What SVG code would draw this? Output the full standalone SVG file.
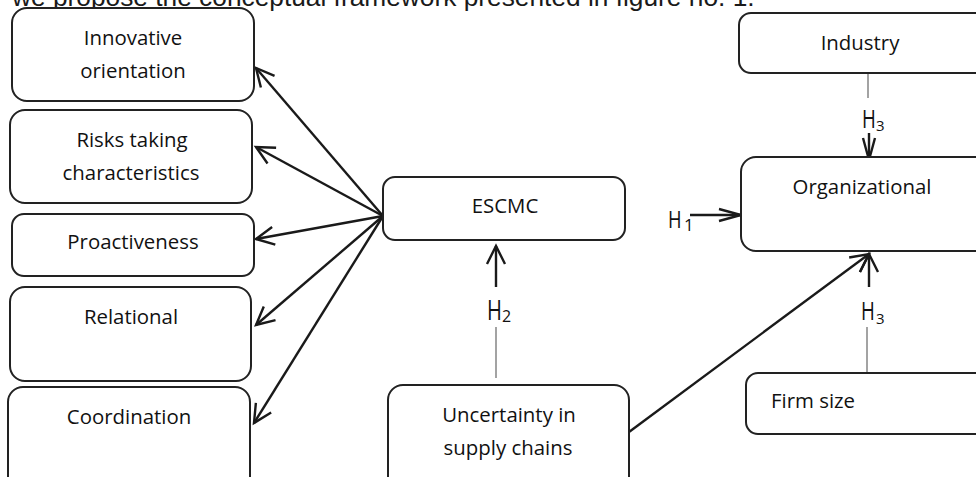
<svg xmlns="http://www.w3.org/2000/svg" width="976" height="477" viewBox="0 0 976 477">
<defs>
<style>
.box{fill:#fff;stroke:#222;stroke-width:2}
.t{font-family:"Open Sans","Noto Sans",sans-serif;font-size:20.4px;fill:#111;text-anchor:middle}
.h{font-family:"Open Sans","Noto Sans",sans-serif;fill:#111}
.arr{stroke:#1a1a1a;stroke-width:2.4;fill:none;marker-end:url(#ah)}
.thin{stroke:#666;stroke-width:1.2;fill:none}
</style>
<marker id="ah" markerUnits="userSpaceOnUse" viewBox="0 0 20 20" markerWidth="20" markerHeight="20" refX="19" refY="10" orient="auto" overflow="visible">
<path d="M1,1 L19,10 L1,19" fill="none" stroke="#1a1a1a" stroke-width="2.4"/>
</marker>
<marker id="ahn" markerUnits="userSpaceOnUse" viewBox="0 0 24 14" markerWidth="24" markerHeight="14" refX="23" refY="7" orient="auto" overflow="visible">
<path d="M1,1 L23,7 L1,13" fill="none" stroke="#1a1a1a" stroke-width="2.4"/>
</marker>
</defs>
<rect width="976" height="477" fill="#fff"/>
<text x="12" y="6" font-family="Liberation Sans, Arial, sans-serif" font-size="26.3" fill="#1a1a1a">we propose the conceptual framework presented in figure no. 1.</text>

<g id="connectors">
<line class="arr" x1="383" y1="216" x2="256" y2="68"/>
<line class="arr" x1="383" y1="216" x2="256" y2="147"/>
<line class="arr" x1="383" y1="216" x2="256" y2="239"/>
<line class="arr" x1="383" y1="216" x2="256" y2="325"/>
<line class="arr" x1="383" y1="216" x2="254" y2="423"/>
<line class="arr" x1="496" y1="287" x2="496" y2="246"/>
<line class="thin" x1="496" y1="327" x2="496" y2="378"/>
<line class="arr" x1="690" y1="215" x2="741" y2="215" style="marker-end:url(#ahn)"/>
<line class="thin" x1="868" y1="73" x2="868" y2="98"/>
<line class="arr" x1="869" y1="133" x2="869" y2="160" style="marker-end:url(#ahn)"/>
<line class="thin" x1="867" y1="327" x2="867" y2="373"/>
<line class="arr" x1="869" y1="287" x2="869" y2="254"/>
<line class="arr" x1="629" y1="432" x2="869" y2="254"/>
</g>

<g id="innovative">
<rect class="box" x="12" y="8" width="242" height="93" rx="15"/>
<text class="t" x="133" y="45">Innovative</text>
<text class="t" x="133" y="78">orientation</text>
</g>
<g id="risks">
<rect class="box" x="10" y="110" width="242" height="93" rx="15"/>
<text class="t" x="132" y="147">Risks taking</text>
<text class="t" x="131" y="180">characteristics</text>
</g>
<g id="proactiveness">
<rect class="box" x="12" y="214" width="242" height="62" rx="12"/>
<text class="t" x="133" y="249">Proactiveness</text>
</g>
<g id="relational">
<rect class="box" x="10" y="287" width="241" height="94" rx="15"/>
<text class="t" x="131" y="324">Relational</text>
</g>
<g id="coordination">
<rect class="box" x="8" y="387" width="242" height="110" rx="15"/>
<text class="t" x="129" y="424">Coordination</text>
</g>
<g id="escmc">
<rect class="box" x="383" y="177" width="242" height="63" rx="12"/>
<text class="t" x="505" y="213">ESCMC</text>
</g>
<g id="uncertainty">
<rect class="box" x="388" y="385" width="241" height="110" rx="15"/>
<text class="t" x="509" y="422">Uncertainty in</text>
<text class="t" x="508" y="455">supply chains</text>
</g>
<g id="industry">
<rect class="box" x="739" y="13" width="260" height="60" rx="12"/>
<text class="t" x="860" y="50">Industry</text>
</g>
<g id="organizational">
<rect class="box" x="741" y="157" width="260" height="94" rx="15"/>
<text class="t" x="862" y="194">Organizational</text>
</g>
<g id="firmsize">
<rect class="box" x="746" y="373" width="260" height="61" rx="12"/>
<text class="t" x="771" y="408" style="text-anchor:start">Firm size</text>
</g>

<g id="labels">
<text class="h" font-size="23" transform="translate(668,228) scale(0.8,1)">H</text>
<text class="h" font-size="17" x="684" y="231">1</text>
<text class="h" font-size="25" transform="translate(862,128) scale(0.75,1)">H</text>
<text class="h" font-size="15" x="876" y="131">3</text>
<text class="h" font-size="27" transform="translate(487,320) scale(0.75,1)">H</text>
<text class="h" font-size="16" x="502" y="322">2</text>
<text class="h" font-size="25" transform="translate(861,320) scale(0.75,1)">H</text>
<text class="h" font-size="15" x="876" y="324">3</text>
</g>
</svg>
